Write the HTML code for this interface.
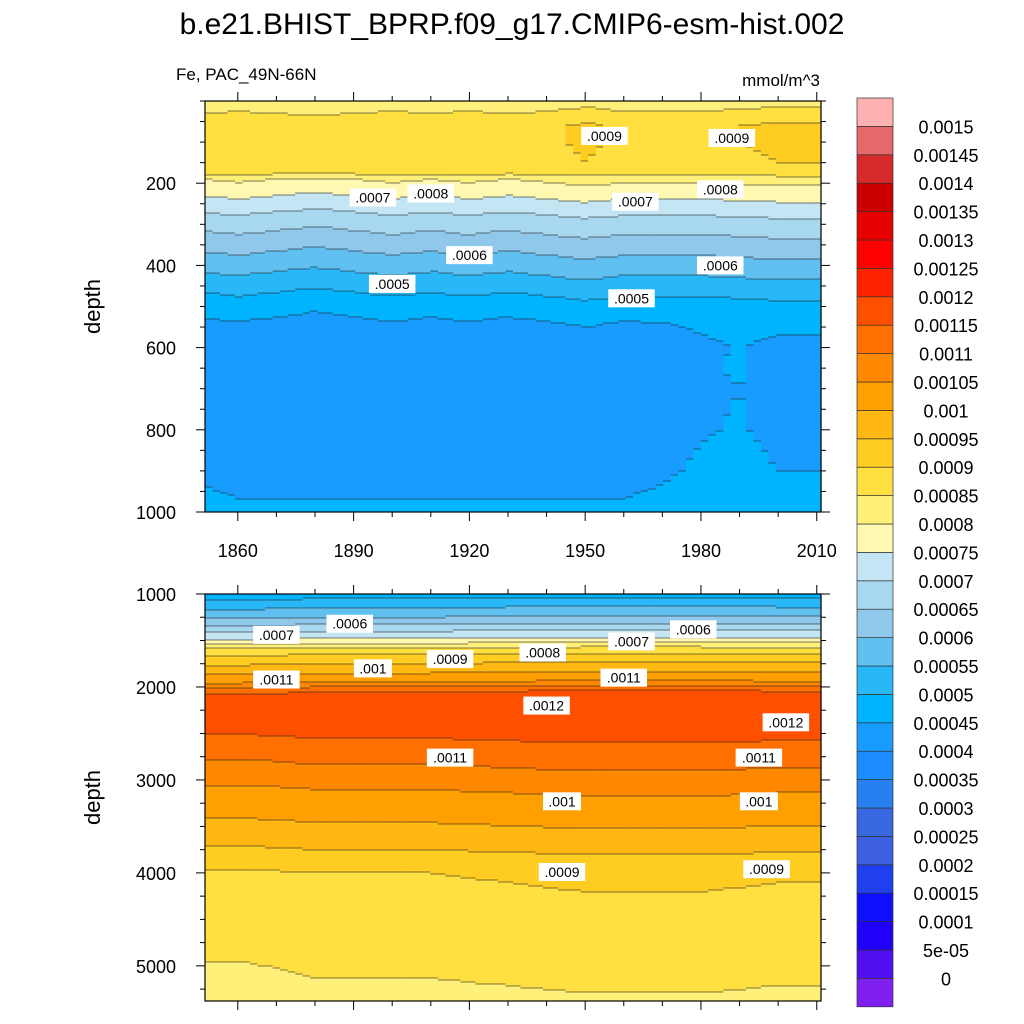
<!DOCTYPE html>
<html><head><meta charset="utf-8">
<style>
body{margin:0;background:#fff;}
svg{display:block;font-family:"Liberation Sans",sans-serif;}
</style></head>
<body>
<svg id="chart" width="1024" height="1024" viewBox="0 0 1024 1024">
<text x="512" y="34" font-size="30" text-anchor="middle">b.e21.BHIST_BPRP.f09_g17.CMIP6-esm-hist.002</text>
<text x="176" y="80" font-size="17">Fe, PAC_49N-66N</text>
<text x="820" y="86" font-size="17" text-anchor="end">mmol/m^3</text>
<g id="top"></g>
<g id="bot"></g>
<g id="cbar"></g>
</svg>
<script>
// ---- data ----
const years = [1850,1860,1870,1880,1890,1900,1910,1920,1930,1940,1950,1960,1970,1980,1990,2000,2010];
const topDepths = [0,15,25,40,60,100,150,175,190,215,250,290,340,390,440,490,540,600,700,800,900,950,1000];
const topValues = [0.00082,0.00083,0.00084,0.00087,0.000885,0.000885,0.00088,0.00086,0.0008,0.00077,0.000725,0.000675,0.000625,0.000575,0.000525,0.000475,0.00044,0.00042,0.00041,0.000415,0.00043,0.000445,0.00046];
const topAnom = [0,0.00001,0,-0.00001,0,0.00001,0,0.00001,0,0.00001,0.00002,0.00001,0.00001,0.00001,0.000015,0.00002,0.00002];
const topDeepAnom = [0.00001,0,0,0,0,0,0,0,0,0,0,0,0.00001,0.00003,0.00004,0.00002,0.00002];
const botDepths = [1000,1050,1150,1250,1330,1400,1480,1530,1580,1650,1750,1850,1950,2050,2200,2400,2550,2700,2900,3100,3400,3700,4000,4400,4700,4900,5100,5365];
const botValues = [0.00047,0.0005,0.00055,0.0006,0.00065,0.0007,0.00075,0.0008,0.00085,0.0009,0.00095,0.001,0.00105,0.00115,0.00119,0.00118,0.00115,0.00112,0.00109,0.00105,0.00101,0.00096,0.0009,0.00088,0.00087,0.00086,0.000852,0.000835];
const botAnom = [-0.000008,-0.000008,-0.000005,0,0,0,0,0.000003,0.000005,0.000008,0.00001,0.00001,0.00001,0.00001,0.000008,0.000005,0.000005];
const levelLabels = ["0","5e-05","0.0001","0.00015","0.0002","0.00025","0.0003","0.00035","0.0004","0.00045","0.0005","0.00055","0.0006","0.00065","0.0007","0.00075","0.0008","0.00085","0.0009","0.00095","0.001","0.00105","0.0011","0.00115","0.0012","0.00125","0.0013","0.00135","0.0014","0.00145","0.0015"];
const colors = ["#8020f0","#5010f0","#2000f8","#0c10ff","#2040f0","#3c60e0","#3868e0","#2880f0","#1c8cff","#189cff","#00b4ff","#28b8f8","#60c0f0","#90c8ec","#a8d8f0","#c4e6f4","#fff8b0","#fff07a","#ffe040","#ffcc22","#ffb812","#ffa000","#ff8800","#ff7000","#ff5000","#ff2200","#ff0000","#e60000","#cc0000","#d62a2a","#e66868","#ffb0b0"];
const xTicks = [1860,1890,1920,1950,1980,2010];
const topYTicks = [200,400,600,800,1000];
const botYTicks = [1000,2000,3000,4000,5000];
const topLabels = [[1955,85,".0009"],[1988,90,".0009"],[1895,235,".0007"],[1910,225,".0008"],[1963,245,".0007"],[1985,215,".0008"],[1920,375,".0006"],[1985,400,".0006"],[1900,445,".0005"],[1962,480,".0005"]];
const botLabels = [[1870,1440,".0007"],[1889,1320,".0006"],[1895,1800,".001"],[1915,1700,".0009"],[1939,1630,".0008"],[1962,1510,".0007"],[1978,1380,".0006"],[1870,1920,".0011"],[1960,1900,".0011"],[1940,2200,".0012"],[2002,2380,".0012"],[1915,2760,".0011"],[1995,2760,".0011"],[1944,3230,".001"],[1995,3230,".001"],[1944,3990,".0009"],[1997,3960,".0009"]];
// ---- helpers ----
const NS="http://www.w3.org/2000/svg";
function mk(tag,attrs,parent){const e=document.createElementNS(NS,tag);for(const k in attrs)e.setAttribute(k,attrs[k]);parent.appendChild(e);return e;}
const X0=205,X1=821,Y0=1851.5,Y1=2011.1;
const xs=y=>X0+(y-Y0)/(Y1-Y0)*(X1-X0);
function interp(arrX,arrY,x){if(x<=arrX[0])return arrY[0];for(let i=1;i<arrX.length;i++){if(x<=arrX[i]){const t=(x-arrX[i-1])/(arrX[i]-arrX[i-1]);return arrY[i-1]+t*(arrY[i]-arrY[i-1]);}}return arrY[arrY.length-1];}
function bin(v){if(v<0)return 0;return Math.min(31,Math.floor(v/5e-5+1e-9)+1);}
function panel(g,pt,pb,d0,d1,depths,vals,anom,deepAnom,yticks,minor,labels,xlabels,id){
  const ys=d=>pt+(d-d0)/(d1-d0)*(pb-pt);
  const ncol=82,rowH=2;
  const cw=(X1-X0)/ncol;
  const fill=mk('g',{},g);
  
  
  const lines=mk('g',{stroke:'#222','stroke-width':'0.6'},g);
  for(let c=0;c<ncol;c++){
    const yr=Y0+(c+0.5)*(Y1-Y0)/ncol;
    const a=interp(years,anom,yr);
    const da=deepAnom?interp(years,deepAnom,yr):0;
    let prev=-1,startY=pt;
    for(let py=pt;py<pb;py+=rowH){
      const d=d0+(py+rowH/2-pt)/(pb-pt)*(d1-d0);
      const w=deepAnom?Math.max(0,Math.min(1,(d-500)/150)):0;
      const b=bin(interp(depths,vals,d)+a*(1-w)+da*w);
      if(b!==prev){
        if(prev>=0){
          const r=mk('rect',{x:X0+c*cw,y:startY,width:cw+0.6,height:py-startY+0.3,fill:colors[prev]},fill);
          
          
          mk('line',{x1:X0+c*cw,x2:X0+(c+1)*cw,y1:py,y2:py},lines);
        }
        prev=b;startY=py;
      }
    }
    const r=mk('rect',{x:X0+c*cw,y:startY,width:cw+0.6,height:pb-startY,fill:colors[prev]},fill);
    
    
  }
  const fr=mk('rect',{x:X0,y:pt,width:X1-X0,height:pb-pt,fill:'none',stroke:'#000','stroke-width':1.2},g);
  
  
  for(const L of labels){
    const x=xs(L[0]),y=ys(L[1]);
    const w=L[2].length*8.5+4;
    mk('rect',{x:x-w/2,y:y-9,width:w,height:18,fill:'#fff'},g);
    const t=mk('text',{x:x,y:y+5,'font-size':14,'text-anchor':'middle'},g);
    t.textContent=L[2];
    
    
  }
  for(let yr=1860;yr<=2010;yr+=10){
    const maj=xTicks.includes(yr);
    mk('line',{x1:xs(yr),x2:xs(yr),y1:pb,y2:pb+(maj?9:5),stroke:'#000'},g);
    mk('line',{x1:xs(yr),x2:xs(yr),y1:pt,y2:pt-(maj?9:5),stroke:'#000'},g);
  }
  if(xlabels)for(const yr of xTicks){
    const t=mk('text',{x:xs(yr),y:pb+45,'font-size':18,'text-anchor':'middle'},g);
    t.textContent=yr;
    
    
  }
  for(let d=d0;d<=d1;d+=minor){
    const maj=yticks.includes(d);
    mk('line',{x1:X0,x2:X0-(maj?9:5),y1:ys(d),y2:ys(d),stroke:'#000'},g);
    mk('line',{x1:X1,x2:X1+(maj?9:5),y1:ys(d),y2:ys(d),stroke:'#000'},g);
  }
  for(const d of yticks){
    const t=mk('text',{x:X0-29,y:ys(d)+7,'font-size':18,'text-anchor':'end'},g);
    t.textContent=d;
    
    
  }
  const yt=mk('text',{x:100,y:(pt+pb)/2,'font-size':22,'text-anchor':'middle',transform:`rotate(-90 100 ${(pt+pb)/2})`},g);
  yt.textContent='depth';
  
  
}
panel(document.getElementById('top'),101,512,0,1000,topDepths,topValues,topAnom,topDeepAnom,topYTicks,50,topLabels,true,'top');
panel(document.getElementById('bot'),594,1001,1000,5378,botDepths,botValues,botAnom,null,botYTicks,250,botLabels,false,'bottom');
// colorbar
const cb=document.getElementById('cbar');
const bx=857,bw=36,btop=98,bh=(979-127)/30;
for(let i=0;i<32;i++){
  const y=btop+(31-i)*bh;
  const r=mk('rect',{x:bx,y:y,width:bw,height:bh,fill:colors[i],stroke:'#333','stroke-width':0.7},cb);
  
  
}
for(let i=0;i<levelLabels.length;i++){
  const y=btop+(31-i)*bh;
  const t=mk('text',{x:946,y:y+7,'font-size':18,'text-anchor':'middle'},cb);
  t.textContent=levelLabels[i];
  
  
}
</script>
</body></html>
